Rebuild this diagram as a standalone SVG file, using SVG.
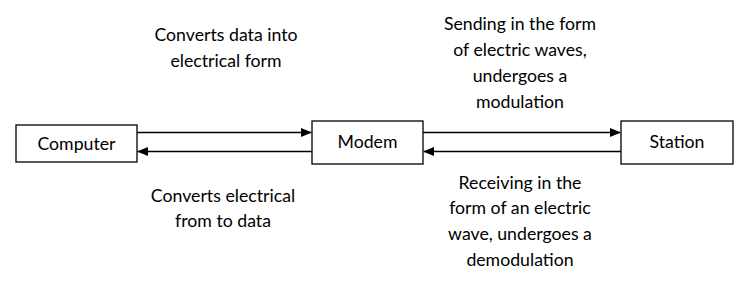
<svg xmlns="http://www.w3.org/2000/svg" width="740" height="281" viewBox="0 0 740 281">
<style>
.box{fill:#fff;stroke:#000;stroke-width:1.3}
.lbl{font-family:Lato,"Open Sans","Liberation Sans",sans-serif;font-size:17.7px;fill:#000;text-anchor:middle}
.ln{stroke:#000;stroke-width:1.3;fill:none;marker-end:url(#ah)}
</style>
<defs>
<marker id="ah" markerWidth="11" markerHeight="9" refX="10" refY="4.5" orient="auto" markerUnits="userSpaceOnUse">
<path d="M0,0 L11,4.5 L0,9 Z" fill="#000"/>
</marker>
</defs>
<rect width="740" height="281" fill="#fff"/>
<g id="connectors">
<line class="ln" x1="137" y1="132.5" x2="311" y2="132.5"/>
<line class="ln" x1="312" y1="151.5" x2="138" y2="151.5"/>
<line class="ln" x1="423" y1="132.5" x2="620" y2="132.5"/>
<line class="ln" x1="621" y1="151.5" x2="424" y2="151.5"/>
</g>
<g id="computer">
<rect class="box" x="16" y="125" width="121" height="37"/>
<text class="lbl" x="76.5" y="149.5">Computer</text>
</g>
<g id="modem">
<rect class="box" x="312" y="121" width="111" height="43"/>
<text class="lbl" x="367.5" y="147.5">Modem</text>
</g>
<g id="station">
<rect class="box" x="621" y="121" width="112" height="43"/>
<text class="lbl" x="677" y="147.5">Station</text>
</g>
<g id="labels">
<text class="lbl" x="226" y="41">Converts data into</text>
<text class="lbl" x="226" y="67">electrical form</text>
<text class="lbl" x="520" y="30">Sending in the form</text>
<text class="lbl" x="520" y="56">of electric waves,</text>
<text class="lbl" x="520" y="82">undergoes a</text>
<text class="lbl" x="520" y="108">modulation</text>
<text class="lbl" x="223" y="202">Converts electrical</text>
<text class="lbl" x="223" y="227">from to data</text>
<text class="lbl" x="520" y="189">Receiving in the</text>
<text class="lbl" x="520" y="214">form of an electric</text>
<text class="lbl" x="520" y="240">wave, undergoes a</text>
<text class="lbl" x="520" y="266">demodulation</text>
</g>
</svg>
